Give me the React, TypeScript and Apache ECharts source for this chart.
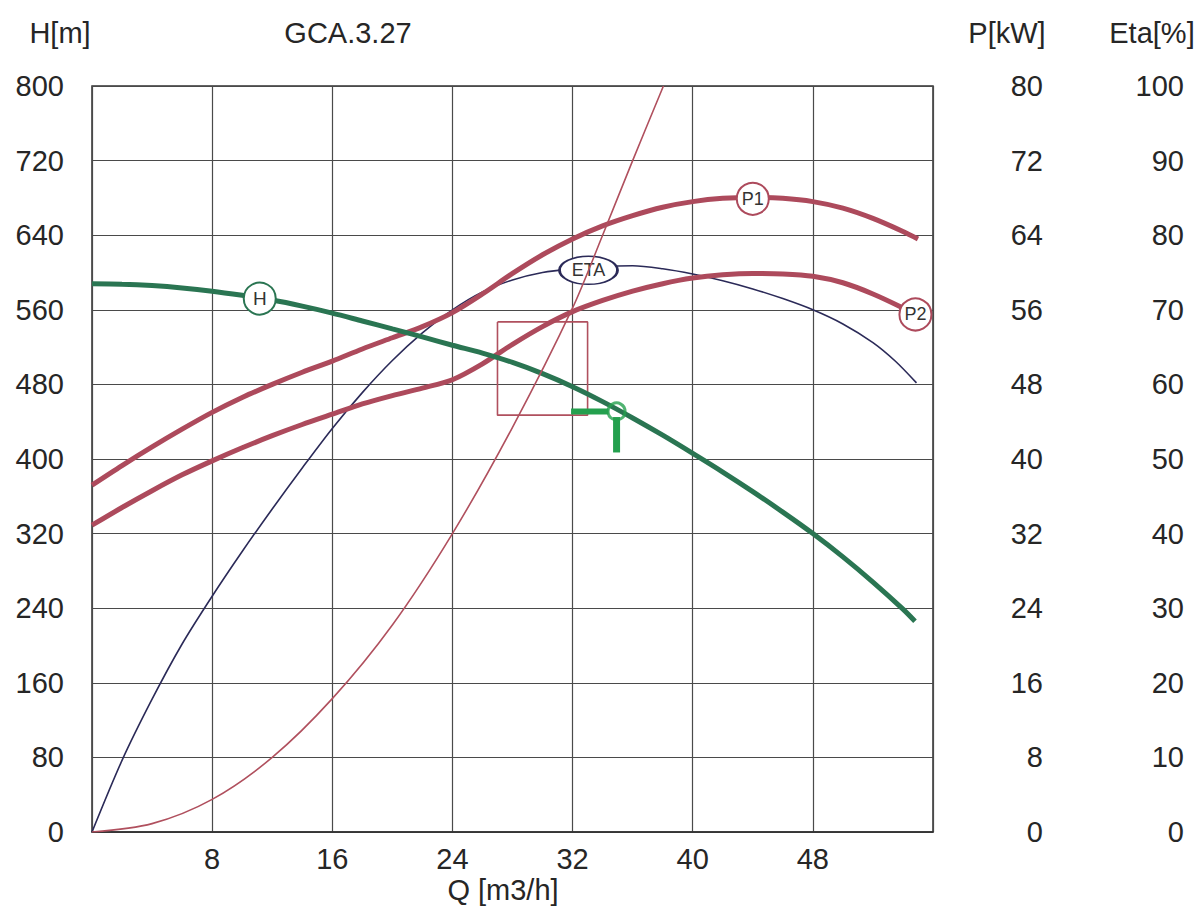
import React, { useEffect, useRef } from 'react';
import * as echarts from 'echarts';

// ---- data ----
// Q [m3/h] axis tick labels
const xTicks = [8, 16, 24, 32, 40, 48];

// H curve (head, m)
const qH = [0, 2, 4, 6, 8, 10, 12, 14, 16, 18, 20, 22, 24, 26, 28, 30, 32, 34, 36, 38, 40, 42, 44, 46, 48, 50, 52, 54, 54.8];
const hH = [588, 587.5, 586, 583.5, 580, 575.5, 570.5, 564, 556.5, 548, 539.5, 531, 522, 513.5, 503.5, 491.5, 477.5, 461.5, 444, 425.5, 406, 386, 365, 343, 320, 295, 268, 239, 226];

// P1 curve (kW)
const qP1 = [0, 2, 4, 6, 8, 10, 12, 14, 16, 18, 20, 22, 24, 26, 28, 30, 32, 34, 36, 38, 40, 42, 44, 46, 48, 50, 52, 54, 55];
const p1 = [37.2, 39.3, 41.3, 43.2, 45.0, 46.6, 48.0, 49.3, 50.5, 51.8, 53.0, 54.2, 55.7, 57.7, 59.9, 61.9, 63.6, 65.0, 66.1, 67.0, 67.6, 67.95, 68.05, 67.95, 67.6, 66.9, 65.8, 64.4, 63.6];

// P2 curve (kW)
const qP2 = [0, 2, 4, 6, 8, 10, 12, 14, 16, 18, 20, 22, 24, 26, 28, 30, 32, 34, 36, 38, 40, 42, 44, 46, 48, 50, 52, 54, 54.8];
const p2 = [32.9, 34.8, 36.6, 38.3, 39.8, 41.2, 42.5, 43.7, 44.8, 45.9, 46.8, 47.6, 48.5, 50.2, 52.3, 54.2, 55.8, 57.0, 58.0, 58.8, 59.4, 59.75, 59.9, 59.85, 59.6, 58.9, 57.7, 56.2, 55.5];

// ETA curve (%)
const qE = [0, 2, 4, 6, 8, 10, 12, 14, 16, 18, 20, 22, 24, 26, 28, 30, 32, 34, 36, 38, 40, 42, 44, 46, 48, 50, 52, 53.5, 54.9];
const eta = [0, 9.6, 17.8, 25.2, 31.6, 37.6, 43.3, 48.8, 54.1, 58.9, 63.2, 66.9, 70.0, 72.4, 74.0, 75.0, 75.5, 75.8, 75.9, 75.5, 74.8, 73.9, 72.8, 71.5, 70.0, 68.1, 65.6, 63.1, 60.2];

// system curve (m)
const qS = [0, 4, 8, 12, 16, 20, 24, 28, 32, 34, 36, 38.05];
const hS = [0, 9, 35, 80, 143, 222, 320, 434, 562, 640, 720, 800];

// tolerance rectangle (Q, H)
const rectQ = [27, 33, 33, 27, 27];
const rectH = [547, 547, 447, 447, 547];

// operating point marker
const opPoint = [34.93, 451];
const opHorizQ = [31.9, 34.4];
const opHorizH = [451, 451];
const opVertQ = [34.93, 34.93];
const opVertH = [445, 407];

// curve label positions
const labelH = [11.17, 572];
const labelP1 = [44, 67.9];
const labelP2 = [54.83, 55.5];
const labelEta = [33.06, 75.3];

const pair = (xs: number[], ys: number[]) => xs.map((x, i) => [x, ys[i]]);

export default function App() {
  const ref = useRef<HTMLDivElement>(null);

  useEffect(() => {
    document.body.style.margin = '0';
    const chart = echarts.init(ref.current!, null, { renderer: 'svg' });
    const FONT = '"Liberation Sans", Arial, Helvetica, sans-serif';
    const txt = '#262626';
    const grid = '#4a4a4a';
    const red = '#ad4a5c';
    const thinRed = '#b0505e';
    const green = '#2a7552';
    const bright = '#24a04e';
    const navy = '#2b2a58';
    const fs = 29;

    const option: any = {
      animation: false,
      backgroundColor: '#ffffff',
      textStyle: { fontFamily: FONT },
      grid: {
        left: 92,
        right: 270,
        top: 86,
        bottom: 76,
        show: true,
        borderColor: '#303030',
        borderWidth: 1.5,
        backgroundColor: 'rgba(0,0,0,0)',
      },
      xAxis: {
        type: 'value',
        min: 0,
        max: 56,
        interval: 8,
        axisLine: { show: true, onZero: false, lineStyle: { color: '#303030', width: 1.5 } },
        axisTick: { show: false },
        splitLine: { show: true, lineStyle: { color: grid, width: 1.2 } },
        axisLabel: {
          margin: 12,
          fontSize: fs,
          color: txt,
          fontFamily: FONT,
          formatter: (v: number) => (xTicks.indexOf(v) >= 0 ? String(v) : ''),
        },
      },
      yAxis: [
        {
          type: 'value',
          min: 0,
          max: 800,
          interval: 80,
          position: 'left',
          axisLine: { show: false },
          axisTick: { show: false },
          splitLine: { show: true, lineStyle: { color: grid, width: 1.2 } },
          axisLabel: { margin: 28, fontSize: fs, color: txt, fontFamily: FONT },
        },
        {
          type: 'value',
          min: 0,
          max: 80,
          interval: 8,
          position: 'right',
          axisLine: { show: false },
          axisTick: { show: false },
          splitLine: { show: false },
          axisLabel: { margin: 110, align: 'right', fontSize: fs, color: txt, fontFamily: FONT },
        },
        {
          type: 'value',
          min: 0,
          max: 100,
          interval: 10,
          position: 'right',
          axisLine: { show: false },
          axisTick: { show: false },
          splitLine: { show: false },
          axisLabel: { margin: 251, align: 'right', fontSize: fs, color: txt, fontFamily: FONT },
        },
      ],
      graphic: [
        { type: 'text', x: 60, y: 33, style: { text: 'H[m]', font: `${fs}px ${FONT}`, fill: txt, textAlign: 'center', textVerticalAlign: 'middle' } },
        { type: 'text', x: 348, y: 33, style: { text: 'GCA.3.27', font: `${fs}px ${FONT}`, fill: txt, textAlign: 'center', textVerticalAlign: 'middle' } },
        { type: 'text', x: 1007, y: 33, style: { text: 'P[kW]', font: `${fs}px ${FONT}`, fill: txt, textAlign: 'center', textVerticalAlign: 'middle' } },
        { type: 'text', x: 1152, y: 33, style: { text: 'Eta[%]', font: `${fs}px ${FONT}`, fill: txt, textAlign: 'center', textVerticalAlign: 'middle' } },
        { type: 'text', x: 503, y: 890, style: { text: 'Q [m3/h]', font: `${fs}px ${FONT}`, fill: txt, textAlign: 'center', textVerticalAlign: 'middle' } },
      ],
      series: [
        {
          type: 'line',
          name: 'ETA',
          yAxisIndex: 2,
          data: pair(qE, eta),
          smooth: 0.3,
          showSymbol: false,
          lineStyle: { color: navy, width: 1.6 },
          z: 3,
          markPoint: {
            symbol: 'path://M0,25 A50,25 0 1,1 100,25 A50,25 0 1,1 0,25 Z',
            symbolSize: [58, 28],
            itemStyle: { color: '#ffffff', borderColor: navy, borderWidth: 2 },
            label: { show: true, formatter: 'ETA', color: '#333', fontSize: 18, fontFamily: FONT },
            data: [{ coord: labelEta }],
            z: 5,
          },
        },
        {
          type: 'line',
          name: 'P1',
          yAxisIndex: 1,
          data: pair(qP1, p1),
          smooth: 0.3,
          showSymbol: false,
          lineStyle: { color: red, width: 5 },
          z: 4,
          markPoint: {
            symbol: 'circle',
            symbolSize: 32,
            itemStyle: { color: '#ffffff', borderColor: red, borderWidth: 2 },
            label: { show: true, formatter: 'P1', color: '#333', fontSize: 18, fontFamily: FONT },
            data: [{ coord: labelP1 }],
            z: 5,
          },
        },
        {
          type: 'line',
          name: 'P2',
          yAxisIndex: 1,
          data: pair(qP2, p2),
          smooth: 0.3,
          showSymbol: false,
          lineStyle: { color: red, width: 5 },
          z: 4,
          markPoint: {
            symbol: 'circle',
            symbolSize: 32,
            itemStyle: { color: '#ffffff', borderColor: red, borderWidth: 2 },
            label: { show: true, formatter: 'P2', color: '#333', fontSize: 18, fontFamily: FONT },
            data: [{ coord: labelP2 }],
            z: 5,
          },
        },
        {
          type: 'line',
          name: 'H',
          yAxisIndex: 0,
          data: pair(qH, hH),
          smooth: 0.3,
          showSymbol: false,
          lineStyle: { color: green, width: 5 },
          z: 4,
          markPoint: {
            symbol: 'circle',
            symbolSize: 32,
            itemStyle: { color: '#ffffff', borderColor: green, borderWidth: 2 },
            label: { show: true, formatter: 'H', color: '#333', fontSize: 19, fontFamily: FONT },
            data: [{ coord: labelH }],
            z: 5,
          },
        },
        {
          type: 'line',
          name: 'system',
          yAxisIndex: 0,
          data: pair(qS, hS),
          smooth: 0.3,
          showSymbol: false,
          lineStyle: { color: thinRed, width: 1.6 },
          z: 6,
        },
        {
          type: 'line',
          name: 'rect',
          yAxisIndex: 0,
          data: pair(rectQ, rectH),
          smooth: false,
          showSymbol: false,
          lineStyle: { color: thinRed, width: 1.6 },
          z: 3,
        },
        {
          type: 'line',
          name: 'opH',
          yAxisIndex: 0,
          data: pair(opHorizQ, opHorizH),
          showSymbol: false,
          lineStyle: { color: bright, width: 6 },
          z: 7,
        },
        {
          type: 'line',
          name: 'opV',
          yAxisIndex: 0,
          data: pair(opVertQ, opVertH),
          showSymbol: false,
          lineStyle: { color: bright, width: 7 },
          z: 7,
        },
        {
          type: 'scatter',
          name: 'op',
          yAxisIndex: 0,
          data: [opPoint],
          symbol: 'circle',
          symbolSize: 17,
          itemStyle: { color: 'rgba(255,255,255,0)', borderColor: bright, borderWidth: 3 },
          z: 8,
        },
      ],
    };

    chart.setOption(option);
    return () => chart.dispose();
  }, []);

  return <div ref={ref} style={{ width: 1203, height: 908 }} />;
}
